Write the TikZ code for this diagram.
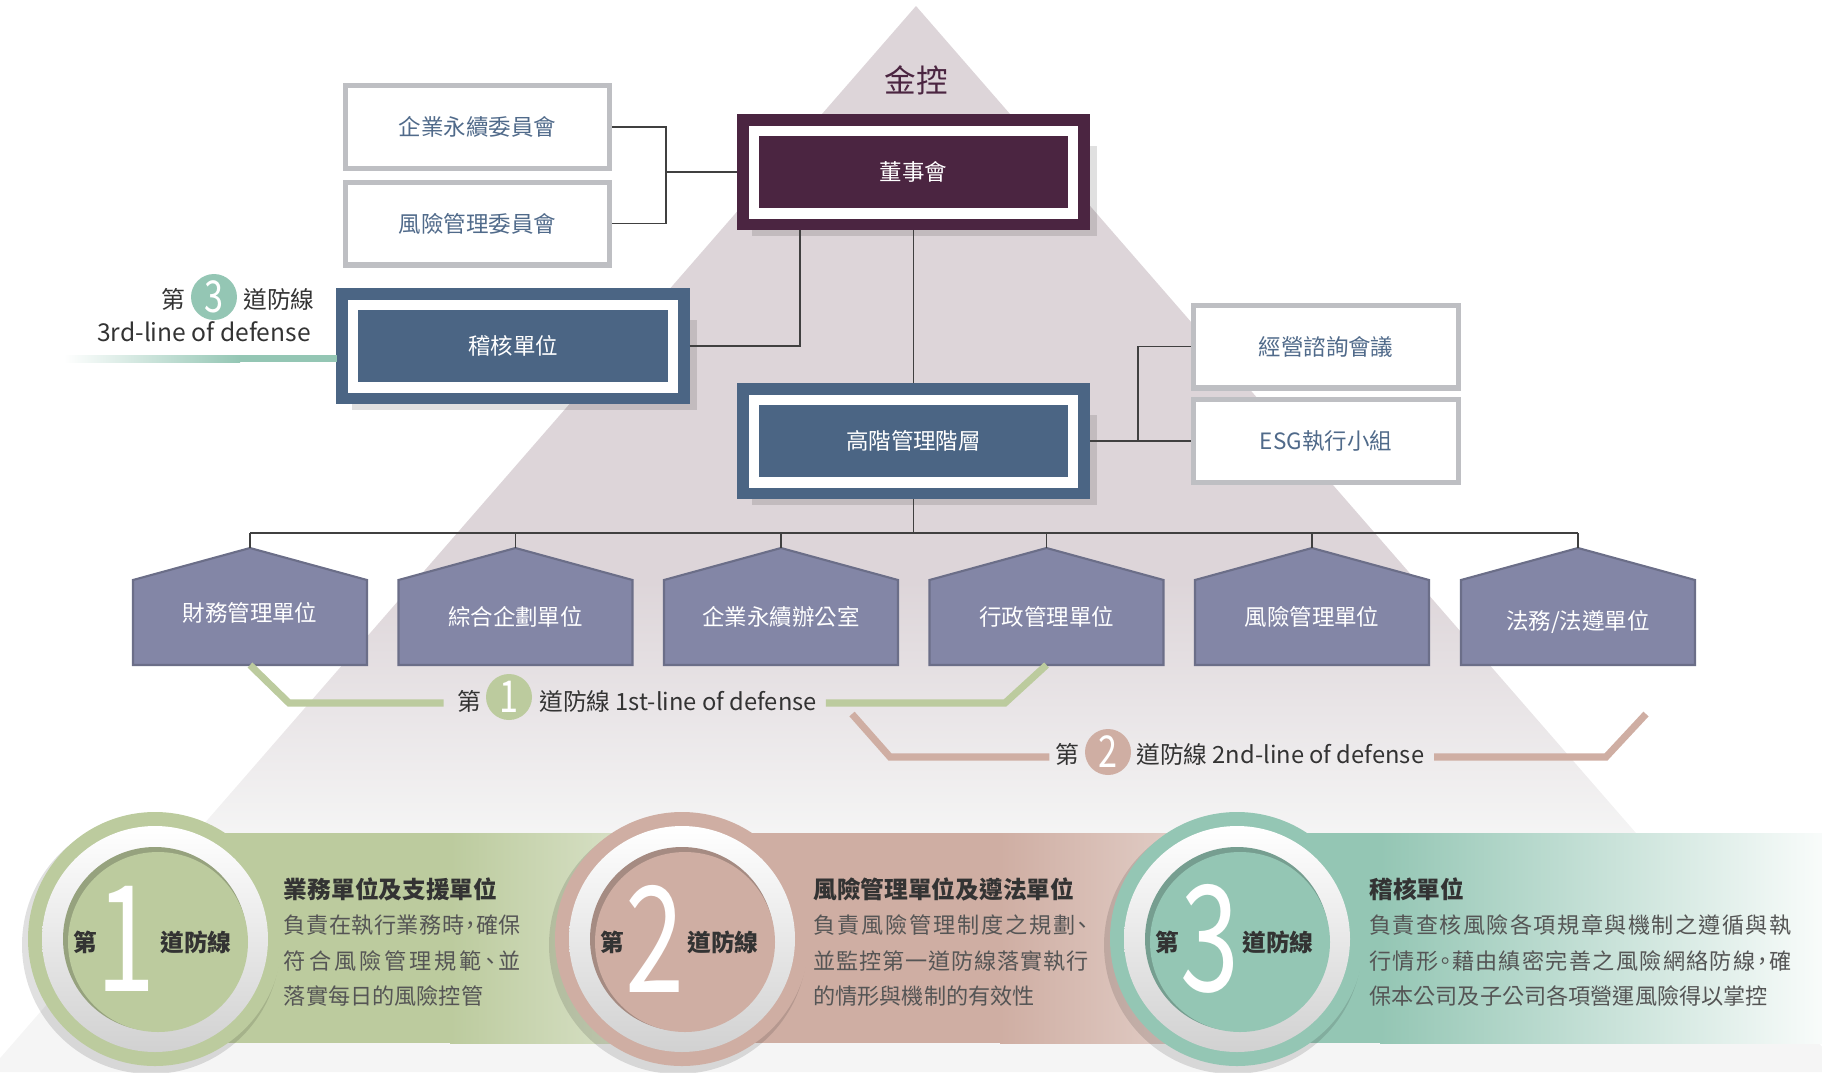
\documentclass[tikz,border=0pt]{standalone}
\usepackage{fontspec}
\setmainfont{Noto Sans CJK TC}
\newfontfamily\bodyfont[RawFeature=+halt]{Noto Sans CJK TC}
\usepackage{tikz}
\usetikzlibrary{positioning, calc, shadows}

\definecolor{plum}{RGB}{75, 37, 65}
\definecolor{slate}{RGB}{75, 101, 132}
\definecolor{slatetext}{RGB}{80, 106, 138}
\definecolor{framegray}{RGB}{190, 191, 195}
\definecolor{unitcol}{RGB}{131, 134, 166}
\definecolor{line1col}{RGB}{188, 203, 158}
\definecolor{line2col}{RGB}{207, 174, 163}
\definecolor{line3col}{RGB}{148, 198, 180}
\definecolor{pyramid}{RGB}{221, 213, 217}
\definecolor{darktext}{RGB}{51, 51, 51}
\definecolor{bodytext}{RGB}{85, 85, 85}
\definecolor{linkgray}{RGB}{64, 64, 64}

\pgfdeclareverticalshading{pyrfade}{100bp}{color(0bp)=(white!96!black); color(36bp)=(white!96!black); color(48bp)=(pyramid); color(100bp)=(pyramid)}

% spread the characters of one line over a given width
\def\spreadchars#1{\ifx#1\relax\else#1\hfil\expandafter\spreadchars\fi}
\newcommand\spreadline[2]{\leavevmode\hbox to #1{\spreadchars#2\relax\unskip}}
\newcommand\desctitle{\rmfamily\bfseries\fontsize{13.5}{20.2}\selectfont\color{darktext}}

\tikzset{
  cmtbox/.style={draw=framegray, line width=2.85pt, fill=white, minimum width=5.3cm, minimum height=1.66cm, text=slatetext, font=\fontsize{12.8}{15}\selectfont},
  framebox/.style={fill=#1, draw=#1, double=white, double distance=5.7pt, line width=6.8pt, outer sep=9.65pt, minimum width=6.39cm, minimum height=1.66cm, text=white, font=\fontsize{12.8}{15}\selectfont, general shadow={fill=black, opacity=.12, shadow scale=1.08, shadow xshift=6pt, shadow yshift=-10pt}},
  unitshape/.style={fill=unitcol, draw=unitcol!82!black, line width=1.2pt},
  unittext/.style={text=white, font=\fontsize{12.8}{15}\selectfont},
  link/.style={draw=linkgray, line width=0.85pt},
  badge/.style={circle, fill=#1, text=white, minimum size=0.92cm, inner sep=0pt, font=\fontsize{25}{25}\selectfont},
  deflabel/.style={inner sep=0pt, text=darktext, font=\fontsize{13.5}{16}\selectfont},
  defline/.style={draw=#1, line width=4pt},
  circtext/.style={inner sep=0pt, text=darktext, font=\bfseries\fontsize{13.5}{16}\selectfont},
  bignum/.style={inner sep=0pt, text=white, font=\fontsize{84}{84}\selectfont},
  desc/.style={anchor=north west, inner sep=0pt, align=left, text=bodytext, font=\bodyfont\fontsize{12.6}{20.2}\selectfont}
}

\begin{document}
\begin{tikzpicture}[x=0.02cm, y=-0.02cm]
  \useasboundingbox (0,0) rectangle (1822,1072);
  \clip (0,0) rectangle (1822,1072);

  % pyramid
  \shade[shading=pyrfade] (916,6) -- (-12,1072) -- (1844,1072) -- cycle;
  \node[text=plum, font=\fontsize{18}{20}\selectfont] (hold) at (916,80) {金控};

  % board, committees, management
  \node[framebox=plum] (board) at (913.5,172) {董事會};
  \node[cmtbox] (csr) at (477.5,127) {企業永續委員會};
  \node[cmtbox] (riskc) at (477.5,223.5) {風險管理委員會};
  \node[framebox=slate] (audit) at (513,346) {稽核單位};
  \node[framebox=slate] (mgmt) at (913.5,441) {高階管理階層};
  \node[cmtbox] (advis) at (1326,346.5) {經營諮詢會議};
  \node[cmtbox] (esg) at (1326,441) {ESG執行小組};

  \coordinate (cbr) at (666,172);
  \coordinate (mbr) at (1138,441);
  \coordinate (bus) at (0,533);
  \draw[link] (csr.east) -| (cbr) |- (riskc.east);
  \draw[link] (cbr) -- (board.west);
  \draw[link] (board.south) -- (mgmt.north);
  \draw[link] (audit.east) -| ($(board.south)+(-113.5,0)$);
  \draw[link] (mgmt.east) -- (esg.west);
  \draw[link] (advis.west) -| (mbr);

  % units
  \foreach \x/\ty/\name [count=\i] in {250/613/財務管理單位, 515.5/617/綜合企劃單位, 781/617/企業永續辦公室, 1046.5/617/行政管理單位, 1312/617/風險管理單位, 1578/622/{法務/法遵單位}} {
    \filldraw[unitshape] (\x-117,665) -- (\x-117,580) -- (\x,548) -- (\x+117,580) -- (\x+117,665) -- cycle;
    \node[unittext] (u\i) at (\x,\ty) {\name};
    \coordinate (top\i) at (\x,548);
    \coordinate (bot\i) at (\x,665);
  }
  \draw[link] (mgmt.south) -- (mgmt.south |- bus);
  \draw[link] (top1 |- bus) -- (top6 |- bus);
  \foreach \i in {1,...,6} \draw[link] (top\i |- bus) -- (top\i);

  % 1st line of defense
  \node[badge=line1col] (b1) at (509,697) {\scalebox{.78}[1]{1}};
  \node[deflabel, anchor=east] (f1) at (482,701) {第};
  \node[deflabel, anchor=west] (t1) at (539,701) {道防線 1st-line of defense};
  \draw[defline=line1col, shorten >=8pt] (bot1) -- (289,703) -- (f1.west |- 0,703);
  \draw[defline=line1col, shorten <=5pt] (t1.east |- 0,703) -- (1005,703) -- (bot4);

  % 2nd line of defense
  \node[badge=line2col] (b2) at (1108,752) {\scalebox{.78}[1]{2}};
  \node[deflabel, anchor=east] (f2) at (1080,754) {第};
  \node[deflabel, anchor=west] (t2) at (1136,754) {道防線 2nd-line of defense};
  \coordinate (l2a) at (852,714);
  \coordinate (l2b) at (1646,714);
  \draw[defline=line2col, shorten >=3.5pt] (l2a) -- (890,757) -- (f2.west |- 0,757);
  \draw[defline=line2col, shorten <=5.5pt] (t2.east |- 0,757) -- (1606,757) -- (l2b);

  % 3rd line of defense
  \node[badge=line3col] (b3) at (214,297) {\scalebox{.78}[1]{3}};
  \node[deflabel, anchor=east] (f3) at (186,299) {第};
  \node[deflabel, anchor=west] (t3) at (243,299) {道防線};
  \node[deflabel, anchor=east, font=\fontsize{14}{16}\selectfont] (e3) at (311,332) {3rd-line of defense};
  \shade[left color=white, right color=line3col] (64,355) rectangle (240,362);
  \fill[line3col] (240,355) rectangle (337,362);

  % bottom bands
  \fill[line1col] (155,833) rectangle (450,1043);
  \shade[left color=line1col, right color=line1col!45!white] (450,833) rectangle (682,1043);
  \fill[line2col] (682,833) rectangle (1000,1043);
  \shade[left color=line2col, right color=line2col!50!white] (1000,833) rectangle (1237,1043);
  \fill[line3col] (1237,833) rectangle (1380,1043);
  \shade[left color=line3col, right color=line3col!6!white] (1380,833) rectangle (1822,1043);

  \foreach \cx/\col/\num/\dx [count=\i] in {155/line1col/1/-29, 682/line2col/2/-27, 1237/line3col/3/-27} {
    \coordinate (c\i) at (\cx,939);
    \fill[black, opacity=.12] (\cx-4,945) circle[radius=129];
    \fill[\col] (c\i) circle[radius=127];
    \shade[top color=white, bottom color=black!18] (c\i) circle[radius=113];
    \fill[\col!80!black] (c\i) circle[radius=92];
    \fill[\col] (\cx+3,942) circle[radius=90];
    \node[circtext] (cf\i) at (\cx-70,942) {第};
    \node[bignum] (cn\i) at (\cx+\dx,939) {\scalebox{.72}[1]{\num}};
    \node[circtext] (cd\i) at (\cx+41,942) {道防線};
  }

  \node[desc, text width=4.74cm] (desc1) at (283.6,877) {{\desctitle 業務單位及支援單位}\\
    \spreadline{4.74cm}{負責在執行業務時，確保}\\
    \spreadline{4.74cm}{符合風險管理規範、並}\\
    落實每日的風險控管};
  \node[desc, text width=5.5cm] (desc2) at (813,877) {{\desctitle 風險管理單位及遵法單位}\\
    \spreadline{5.5cm}{負責風險管理制度之規劃、}\\
    \spreadline{5.5cm}{並監控第一道防線落實執行}\\
    的情形與機制的有效性};
  \node[desc, text width=8.44cm] (desc3) at (1369,877) {{\desctitle 稽核單位}\\
    \spreadline{8.44cm}{負責查核風險各項規章與機制之遵循與執}\\
    \spreadline{8.44cm}{行情形。藉由縝密完善之風險網絡防線，確}\\
    保本公司及子公司各項營運風險得以掌控};
\end{tikzpicture}
\end{document}
